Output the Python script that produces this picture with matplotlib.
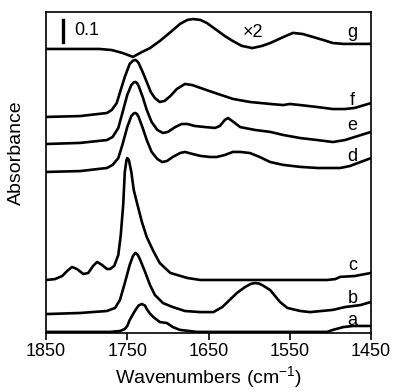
import matplotlib
matplotlib.use("Agg")
import matplotlib.pyplot as plt

plt.rcParams['font.family'] = ['Liberation Sans', 'DejaVu Sans']
plt.rcParams['mathtext.fontset'] = 'custom'
plt.rcParams['mathtext.rm'] = 'Liberation Sans'
plt.rcParams['mathtext.it'] = 'Liberation Sans'

# ---- data (stacked absorbance as displayed) ----
wn_a = [1850, 1771, 1759, 1753, 1750, 1747, 1743, 1740, 1736, 1732, 1728, 1726, 1722, 1718, 1710, 1701, 1694, 1685, 1664, 1587, 1504, 1497, 1484, 1472, 1450]
abs_a = [0.005, 0.005, 0.009, 0.018, 0.032, 0.059, 0.085, 0.104, 0.125, 0.132, 0.124, 0.109, 0.088, 0.073, 0.050, 0.045, 0.027, 0.014, 0.005, 0.005, 0.005, 0.014, 0.027, 0.032, 0.032]

wn_b = [1850, 1808, 1775, 1765, 1759, 1753, 1747, 1743, 1740, 1737, 1734, 1728, 1722, 1716, 1706, 1694, 1679, 1660, 1644, 1633, 1624, 1615, 1605, 1598, 1593, 1588, 1584, 1574, 1562, 1553, 1537, 1525, 1497, 1482, 1463, 1450]
abs_b = [0.086, 0.091, 0.100, 0.114, 0.150, 0.227, 0.309, 0.350, 0.364, 0.355, 0.332, 0.277, 0.218, 0.173, 0.136, 0.118, 0.100, 0.095, 0.095, 0.118, 0.150, 0.182, 0.209, 0.223, 0.227, 0.225, 0.218, 0.195, 0.141, 0.114, 0.100, 0.095, 0.105, 0.118, 0.127, 0.141]

wn_c = [1850, 1839, 1830, 1824, 1818, 1812, 1804, 1798, 1792, 1787, 1781, 1775, 1771, 1766, 1761, 1758, 1755, 1753, 1751, 1750, 1748, 1745, 1742, 1738, 1732, 1726, 1718, 1710, 1697, 1676, 1660, 1587, 1504, 1494, 1488, 1470, 1450]
abs_c = [0.241, 0.245, 0.259, 0.282, 0.300, 0.291, 0.268, 0.273, 0.305, 0.323, 0.309, 0.291, 0.291, 0.305, 0.355, 0.445, 0.582, 0.732, 0.785, 0.795, 0.786, 0.732, 0.650, 0.591, 0.505, 0.436, 0.373, 0.318, 0.273, 0.250, 0.241, 0.241, 0.241, 0.245, 0.255, 0.259, 0.273]

wn_d = [1850, 1808, 1775, 1768, 1761, 1756, 1750, 1745, 1742, 1740, 1738, 1736, 1731, 1726, 1720, 1713, 1707, 1701, 1694, 1685, 1679, 1670, 1660, 1648, 1640, 1630, 1620, 1611, 1599, 1587, 1574, 1558, 1537, 1516, 1488, 1476, 1463, 1450]
abs_d = [0.732, 0.736, 0.750, 0.764, 0.795, 0.855, 0.936, 0.986, 0.998, 1.000, 0.995, 0.982, 0.932, 0.877, 0.823, 0.791, 0.777, 0.782, 0.800, 0.818, 0.823, 0.814, 0.805, 0.800, 0.800, 0.809, 0.823, 0.823, 0.818, 0.800, 0.777, 0.764, 0.755, 0.750, 0.750, 0.759, 0.777, 0.795]

wn_e = [1850, 1808, 1775, 1768, 1761, 1756, 1750, 1745, 1742, 1740, 1738, 1736, 1731, 1726, 1720, 1713, 1706, 1700, 1691, 1683, 1676, 1667, 1654, 1642, 1636, 1630, 1626, 1621, 1611, 1593, 1574, 1558, 1537, 1516, 1497, 1482, 1470, 1450]
abs_e = [0.859, 0.864, 0.877, 0.891, 0.932, 1.000, 1.082, 1.127, 1.139, 1.141, 1.136, 1.123, 1.073, 1.014, 0.959, 0.923, 0.909, 0.914, 0.936, 0.950, 0.950, 0.941, 0.936, 0.932, 0.941, 0.968, 0.977, 0.964, 0.936, 0.923, 0.914, 0.900, 0.886, 0.877, 0.868, 0.877, 0.891, 0.914]

wn_f = [1850, 1808, 1775, 1769, 1763, 1758, 1753, 1747, 1743, 1740, 1738, 1736, 1731, 1726, 1721, 1716, 1710, 1704, 1697, 1689, 1679, 1670, 1660, 1642, 1620, 1599, 1574, 1558, 1550, 1537, 1516, 1497, 1482, 1470, 1450]
abs_f = [0.982, 0.986, 1.000, 1.014, 1.045, 1.105, 1.164, 1.223, 1.238, 1.241, 1.236, 1.227, 1.186, 1.141, 1.095, 1.068, 1.050, 1.055, 1.077, 1.109, 1.132, 1.127, 1.114, 1.091, 1.064, 1.050, 1.041, 1.036, 1.041, 1.036, 1.027, 1.018, 1.018, 1.023, 1.045]

wn_g = [1850, 1784, 1769, 1756, 1743, 1732, 1722, 1710, 1695, 1685, 1676, 1669, 1660, 1652, 1640, 1630, 1620, 1609, 1596, 1584, 1574, 1558, 1546, 1534, 1521, 1509, 1497, 1484, 1450]
abs_g = [1.291, 1.291, 1.286, 1.273, 1.255, 1.277, 1.295, 1.327, 1.373, 1.405, 1.423, 1.427, 1.423, 1.409, 1.377, 1.350, 1.327, 1.305, 1.295, 1.305, 1.318, 1.345, 1.364, 1.359, 1.345, 1.332, 1.318, 1.314, 1.314]

labels = ['a', 'b', 'c', 'd', 'e', 'f', 'g']
label_y = [0.059, 0.159, 0.309, 0.800, 0.941, 1.059, 1.364]
xticks = [1850, 1750, 1650, 1550, 1450]

# ---- figure ----
fig = plt.figure(figsize=(3.94, 3.92), dpi=100)
ax = fig.add_axes([46/394, 59/392, 325/394, 321/392])

series = [(wn_a, abs_a), (wn_b, abs_b), (wn_c, abs_c), (wn_d, abs_d),
          (wn_e, abs_e), (wn_f, abs_f), (wn_g, abs_g)]
for wx, ay in series:
    ax.plot(wx, ay, color='black', lw=1.9, solid_joinstyle='round', solid_capstyle='round')

for lab, ly in zip(labels, label_y):
    ax.text(1473, ly, lab, ha='center', va='center', fontsize=13)

ax.text(1595, 1.364, '\u00d72', ha='center', va='center', fontsize=13)
# scale bar 0.1
ax.plot([1829, 1829], [1.323, 1.423], color='black', lw=2.4)
ax.text(1800, 1.373, '0.1', ha='center', va='center', fontsize=13)

ax.set_xlim(1850, 1450)
ax.set_ylim(0, 1.459)
ax.set_xticks(xticks)
ax.set_xticklabels([str(t) for t in xticks])
ax.set_yticks([])
ax.tick_params(axis='x', direction='out', length=5, width=1.2, labelsize=13, pad=2)
for sp in ax.spines.values():
    sp.set_linewidth(1.2)

ax.set_xlabel('Wavenumbers (cm$^{-1}$)', fontsize=14)
ax.xaxis.set_label_coords(0.5, -0.098)
ax.set_ylabel('Absorbance', fontsize=14)
ax.yaxis.set_label_coords(-0.065, 0.561)

fig.savefig('out.png', dpi=100)
